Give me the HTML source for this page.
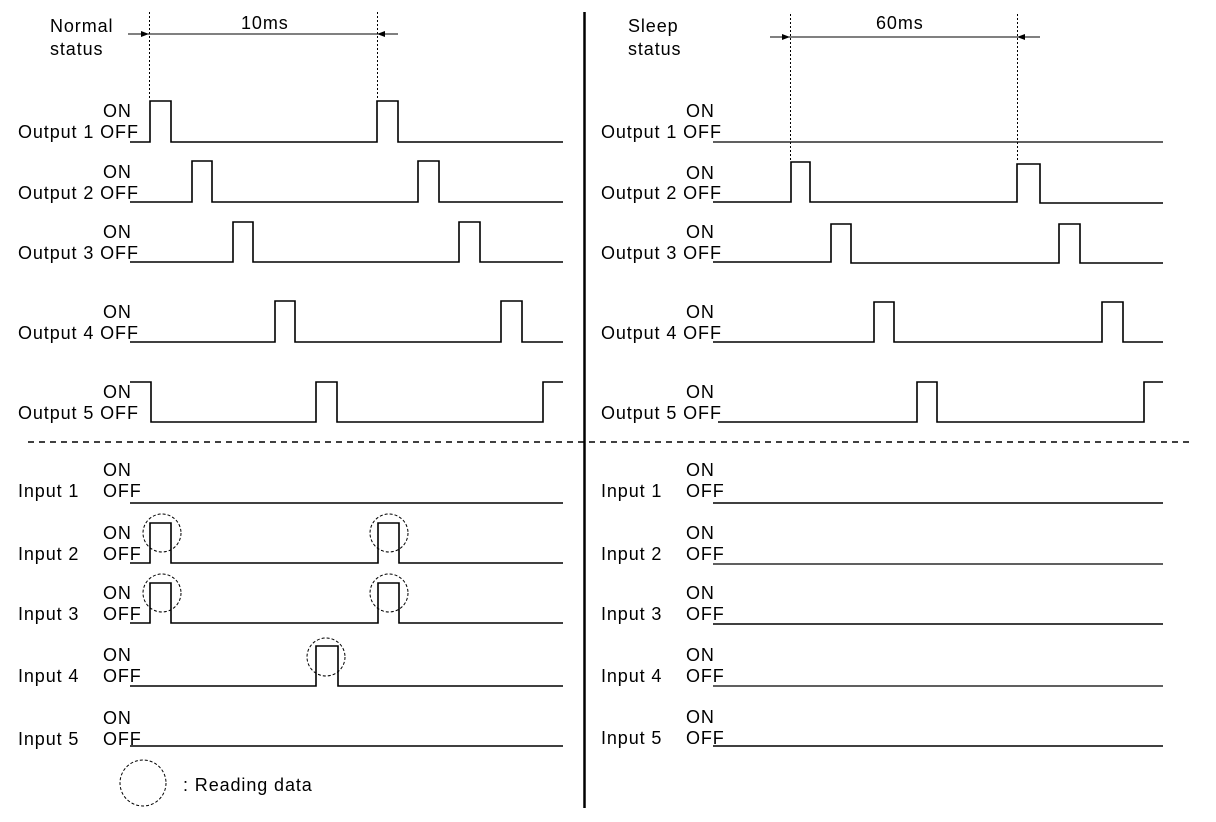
<!DOCTYPE html>
<html><head><meta charset="utf-8"><style>
html,body{margin:0;padding:0;background:#fff;}
svg{display:block;}
text{font-family:"Liberation Sans",Arial,sans-serif;font-size:18px;letter-spacing:0.9px;fill:#000;}
</style></head><body>
<svg width="1216" height="822" viewBox="0 0 1216 822" xmlns="http://www.w3.org/2000/svg">
<g fill="none" stroke="#000" stroke-width="1.6">
<line x1="584.5" y1="12" x2="584.5" y2="808" stroke-width="2.5"/>
<line x1="28" y1="442" x2="1190" y2="442" stroke-dasharray="6,5"/>
<line x1="149.5" y1="12" x2="149.5" y2="100" stroke-dasharray="2,2" stroke-width="1"/>
<line x1="377.5" y1="12" x2="377.5" y2="100" stroke-dasharray="2,2" stroke-width="1"/>
<line x1="128" y1="34" x2="398" y2="34" stroke-width="1"/>
<line x1="790.5" y1="14" x2="790.5" y2="162" stroke-dasharray="2,2" stroke-width="1"/>
<line x1="1017.5" y1="14" x2="1017.5" y2="162" stroke-dasharray="2,2" stroke-width="1"/>
<line x1="770" y1="37" x2="1040" y2="37" stroke-width="1"/>

<polyline points="130,142 150,142 150,101 171,101 171,142 377,142 377,101 398,101 398,142 563,142"/>
<polyline points="130,202 192,202 192,161 212,161 212,202 418,202 418,161 439,161 439,202 563,202"/>
<polyline points="130,262 233,262 233,222 253,222 253,262 459,262 459,222 480,222 480,262 563,262"/>
<polyline points="130,342 275,342 275,301 295,301 295,342 501,342 501,301 522,301 522,342 563,342"/>
<polyline points="130,382 151,382 151,422 316,422 316,382 337,382 337,422 543,422 543,382 563,382"/>
<polyline points="130,503 563,503"/>
<polyline points="130,563 150,563 150,523 171,523 171,563 378,563 378,523 399,523 399,563 563,563"/>
<polyline points="130,623 150,623 150,583 171,583 171,623 378,623 378,583 399,583 399,623 563,623"/>
<polyline points="130,686 316,686 316,646 338,646 338,686 563,686"/>
<polyline points="130,746 563,746"/>

<polyline points="713,142 1163,142" stroke-width="1.2"/>
<polyline points="713,202 791,202 791,162 810,162 810,202 1017,202 1017,164 1040,164 1040,203 1163,203"/>
<polyline points="713,262 831,262 831,224 851,224 851,263 1059,263 1059,224 1080,224 1080,263 1163,263"/>
<polyline points="713,342 874,342 874,302 894,302 894,342 1102,342 1102,302 1123,302 1123,342 1163,342"/>
<polyline points="718,422 917,422 917,382 937,382 937,422 1144,422 1144,382 1163,382"/>
<polyline points="713,503 1163,503"/>
<polyline points="713,564 1163,564" stroke-width="1.2"/>
<polyline points="713,624 1163,624"/>
<polyline points="713,686 1163,686" stroke-width="1.2"/>
<polyline points="713,746 1163,746"/>

<g stroke-dasharray="3,2" stroke-width="1">
<circle cx="162" cy="533" r="19"/>
<circle cx="389" cy="533" r="19"/>
<circle cx="162" cy="593" r="19"/>
<circle cx="389" cy="593" r="19"/>
<circle cx="326" cy="657" r="19"/>
<circle cx="143" cy="783" r="23"/>
</g>
</g>
<g fill="#000">
<polygon points="149,34 141,31 141,37"/>
<polygon points="377,34 385,31 385,37"/>
<polygon points="790,37 782,34 782,40"/>
<polygon points="1017,37 1025,34 1025,40"/>
</g>
<text x="50" y="32">Normal</text>
<text x="50" y="55">status</text>
<text x="241" y="29">10ms</text>
<text x="628" y="32">Sleep</text>
<text x="628" y="55">status</text>
<text x="876" y="29">60ms</text>

<g>
<text x="103" y="117">ON</text><text x="18" y="138">Output 1 OFF</text>
<text x="103" y="178">ON</text><text x="18" y="199">Output 2 OFF</text>
<text x="103" y="238">ON</text><text x="18" y="259">Output 3 OFF</text>
<text x="103" y="318">ON</text><text x="18" y="339">Output 4 OFF</text>
<text x="103" y="398">ON</text><text x="18" y="419">Output 5 OFF</text>

<text x="103" y="476">ON</text><text x="18" y="497">Input 1</text><text x="103" y="497">OFF</text>
<text x="103" y="539">ON</text><text x="18" y="560">Input 2</text><text x="103" y="560">OFF</text>
<text x="103" y="599">ON</text><text x="18" y="620">Input 3</text><text x="103" y="620">OFF</text>
<text x="103" y="661">ON</text><text x="18" y="682">Input 4</text><text x="103" y="682">OFF</text>
<text x="103" y="724">ON</text><text x="18" y="745">Input 5</text><text x="103" y="745">OFF</text>

<text x="686" y="117">ON</text><text x="601" y="138">Output 1 OFF</text>
<text x="686" y="179">ON</text><text x="601" y="199">Output 2 OFF</text>
<text x="686" y="238">ON</text><text x="601" y="259">Output 3 OFF</text>
<text x="686" y="318">ON</text><text x="601" y="339">Output 4 OFF</text>
<text x="686" y="398">ON</text><text x="601" y="419">Output 5 OFF</text>

<text x="686" y="476">ON</text><text x="601" y="497">Input 1</text><text x="686" y="497">OFF</text>
<text x="686" y="539">ON</text><text x="601" y="560">Input 2</text><text x="686" y="560">OFF</text>
<text x="686" y="599">ON</text><text x="601" y="620">Input 3</text><text x="686" y="620">OFF</text>
<text x="686" y="661">ON</text><text x="601" y="682">Input 4</text><text x="686" y="682">OFF</text>
<text x="686" y="723">ON</text><text x="601" y="744">Input 5</text><text x="686" y="744">OFF</text>

<text x="183" y="791">: Reading data</text>
</g>
</svg>
</body></html>
